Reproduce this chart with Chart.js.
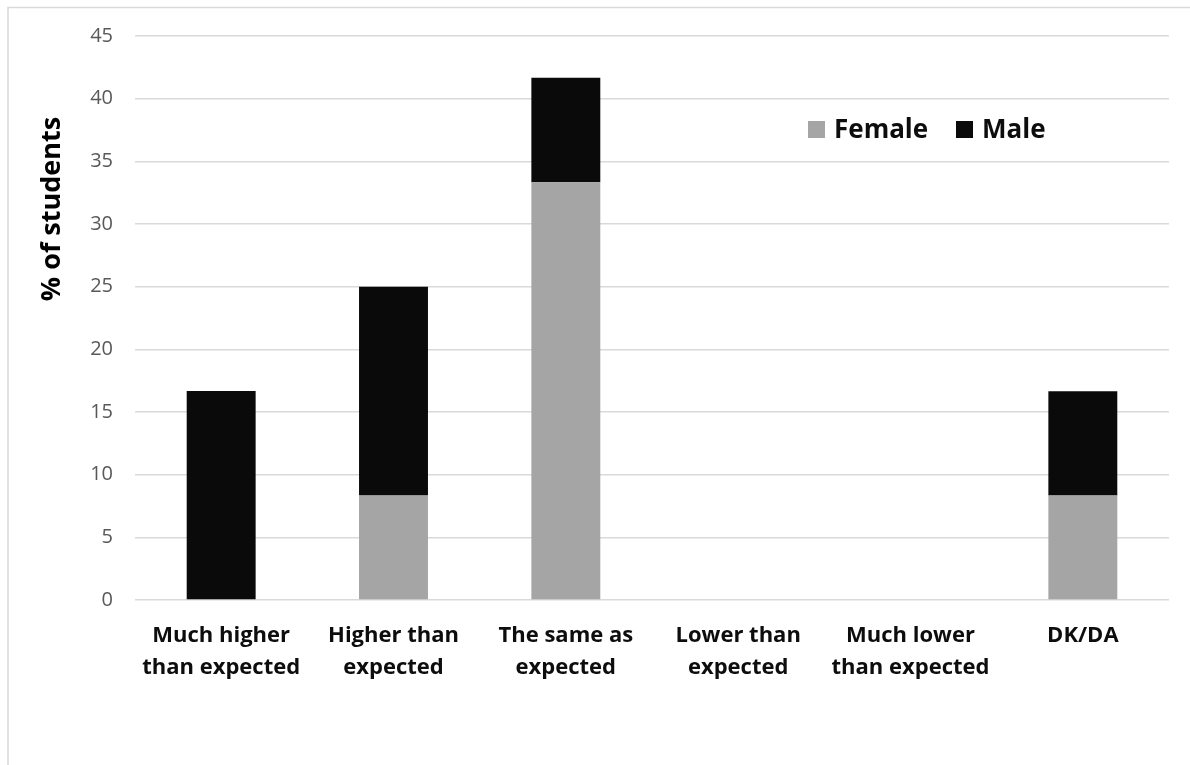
<!DOCTYPE html>
<html>
<head>
<meta charset="utf-8">
<title>% of students by gender</title>
<script src="https://cdn.jsdelivr.net/npm/chart.js@4/dist/chart.umd.min.js"></script>
<style>
  html, body { margin: 0; padding: 0; background: #ffffff; }
  #wrap { width: 1190px; height: 765px; position: relative; }
</style>
</head>
<body>
<div id="wrap"><canvas id="chart" width="1190" height="765"></canvas></div>
<script>
// Response categories (two-line labels)
const categories = [
  ['Much higher', 'than expected'],
  ['Higher than', 'expected'],
  ['The same as', 'expected'],
  ['Lower than', 'expected'],
  ['Much lower', 'than expected'],
  'DK/DA'
];

// Share of students (%) per gender
const femaleValues = [0, 8.33, 33.33, 0, 0, 8.33];
const maleValues   = [16.67, 16.67, 8.33, 0, 0, 8.33];

const seriesNames = ['Female', 'Male'];
const yTicks = [0, 5, 10, 15, 20, 25, 30, 35, 40, 45];
const yTitle = '% of students';

const FONT = '"Open Sans", "Noto Sans", "Liberation Sans", sans-serif';

// Light frame around the chart (left and top edges)
const framePlugin = {
  id: 'frame',
  beforeDraw(chart) {
    const ctx = chart.ctx;
    ctx.save();
    ctx.strokeStyle = '#d9d9d9';
    ctx.lineWidth = 1.5;
    ctx.beginPath();
    ctx.moveTo(8, 765);
    ctx.lineTo(8, 7.5);
    ctx.lineTo(1190, 7.5);
    ctx.stroke();
    ctx.restore();
  }
};

// Rotated y-axis title
const yTitlePlugin = {
  id: 'yTitle',
  afterDraw(chart) {
    const ctx = chart.ctx;
    ctx.save();
    ctx.translate(52, 209);
    ctx.rotate(-Math.PI / 2);
    ctx.font = 'bold 27px ' + FONT;
    ctx.fillStyle = '#000000';
    ctx.textAlign = 'center';
    ctx.textBaseline = 'middle';
    ctx.fillText(yTitle, 0, 0);
    ctx.restore();
  }
};

// Legend drawn inside the plot area, from the dataset labels and colours
const innerLegendPlugin = {
  id: 'innerLegend',
  afterDraw(chart) {
    const ctx = chart.ctx;
    const positions = [808, 956];
    const box = 17;
    const baseY = 138;
    ctx.save();
    ctx.font = 'bold 26px ' + FONT;
    ctx.textBaseline = 'alphabetic';
    ctx.textAlign = 'left';
    chart.data.datasets.forEach((ds, i) => {
      const x = positions[i];
      ctx.fillStyle = ds.backgroundColor;
      ctx.fillRect(x, baseY - box, box, box);
      ctx.fillStyle = '#0d0d0d';
      ctx.fillText(ds.label, x + box + 9, baseY);
    });
    ctx.restore();
  }
};

new Chart(document.getElementById('chart'), {
  type: 'bar',
  data: {
    labels: categories,
    datasets: [
      { label: seriesNames[0], data: femaleValues, backgroundColor: '#a5a5a5' },
      { label: seriesNames[1], data: maleValues, backgroundColor: '#0a0a0a' }
    ]
  },
  options: {
    responsive: false,
    animation: false,
    layout: { padding: { left: 0, right: 21, top: 36, bottom: 0 } },
    datasets: { bar: { categoryPercentage: 1.0, barPercentage: 0.4 } },
    plugins: {
      legend: { display: false },
      tooltip: { enabled: false }
    },
    scales: {
      x: {
        stacked: true,
        grid: { display: false, drawTicks: false },
        border: { display: false },
        ticks: {
          color: '#0d0d0d',
          padding: 20,
          maxRotation: 0,
          autoSkip: false,
          font: { family: FONT, size: 22, weight: 'bold', lineHeight: 1.45 }
        },
        afterFit(scale) { scale.height = 165; }
      },
      y: {
        stacked: true,
        min: 0,
        max: 45,
        afterBuildTicks(scale) { scale.ticks = yTicks.map(v => ({ value: v })); },
        grid: { color: '#d9d9d9', lineWidth: 1.5, drawTicks: false },
        border: { display: false },
        ticks: {
          color: '#595959',
          padding: 22,
          font: { family: FONT, size: 20 }
        },
        afterFit(scale) { scale.width = 135; }
      }
    }
  },
  plugins: [framePlugin, yTitlePlugin, innerLegendPlugin]
});
</script>
</body>
</html>
